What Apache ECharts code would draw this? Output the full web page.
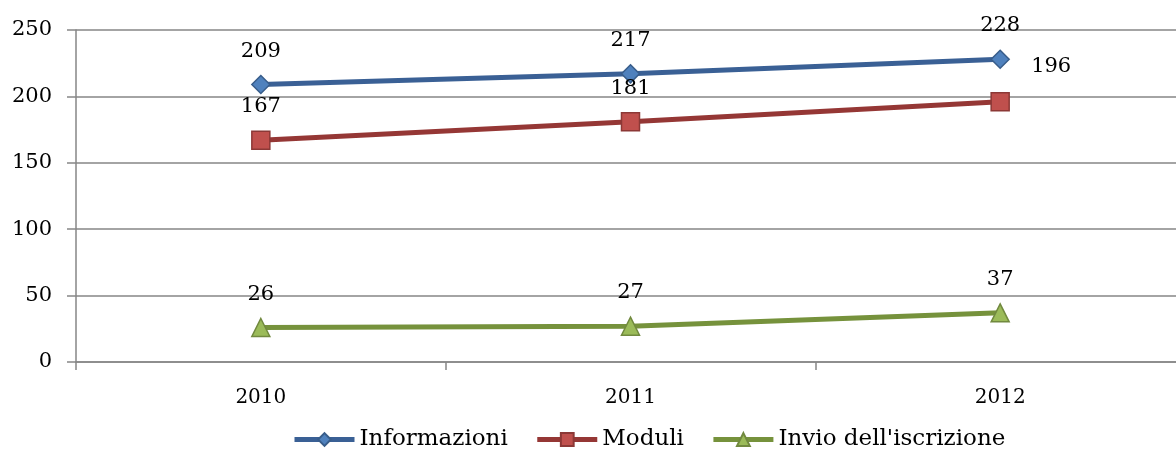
<!DOCTYPE html>
<html><head><meta charset="utf-8">
<script src="https://cdn.jsdelivr.net/npm/echarts@6/dist/echarts.min.js"></script>
<style>html,body{margin:0;padding:0;background:#fff;overflow:hidden;width:1176px;height:455px}#c{width:1186px;height:455px}</style>
</head><body><div id="c"></div>
<script>
const categories = ['2010', '2011', '2012'];
const informazioni = [209, 217, 228];
const moduli = [167, 181, 196];
const invio = [26, 27, 37];
const seriesNames = ['Informazioni', 'Moduli', "Invio dell'iscrizione"];
const yTicks = { min: 0, max: 250, interval: 50 };

const FONT = 'DejaVu Serif';
const chart = echarts.init(document.getElementById('c'), null, { renderer: 'canvas' });
const lbl = { show: true, position: 'top', distance: 13, color: '#000', fontFamily: FONT, fontSize: 21 };
function mk(name, data, lineColor, fill, border, symbol, size, labelOverrides) {
  return {
    name, type: 'line', data: data.map((v, i) => labelOverrides && labelOverrides[i] ? { value: v, label: labelOverrides[i] } : v),
    symbol, symbolSize: size,
    lineStyle: { color: lineColor, width: 5 },
    itemStyle: { color: fill, borderColor: border, borderWidth: 1.5 },
    label: lbl, z: 3
  };
}
chart.setOption({
  animation: false,
  backgroundColor: '#fff',
  grid: { left: 76, right: 1, top: 30, bottom: 93, containLabel: false },
  xAxis: {
    type: 'category', data: categories, boundaryGap: true,
    axisLine: { show: true, lineStyle: { color: '#868686', width: 1.5 } },
    axisTick: { show: true, length: 8, lineStyle: { color: '#868686', width: 1.5 } },
    axisLabel: { margin: 26, color: '#000', fontFamily: FONT, fontSize: 20 }
  },
  yAxis: {
    type: 'value', min: yTicks.min, max: yTicks.max, interval: yTicks.interval,
    axisLine: { show: true, lineStyle: { color: '#868686', width: 1.5 } },
    axisTick: { show: true, length: 9, lineStyle: { color: '#868686', width: 1.5 } },
    splitLine: { show: true, lineStyle: { color: '#868686', width: 1.5 } },
    axisLabel: { margin: 24, color: '#000', fontFamily: FONT, fontSize: 21 }
  },
  legend: {
    top: 423, left: 287, itemWidth: 60, itemHeight: 16, itemGap: 27,
    lineStyle: { width: 5 },
    textStyle: { color: '#000', fontFamily: FONT, fontSize: 23 },
    data: seriesNames
  },
  series: [
    mk(seriesNames[0], informazioni, '#3A6095', '#4F81BD', '#385D8A', 'diamond', 18),
    mk(seriesNames[1], moduli, '#953735', '#C0504D', '#8C3836', 'rect', 18, { 2: { offset: [51, -2] } }),
    mk(seriesNames[2], invio, '#76923C', '#9BBB59', '#71893F', 'triangle', 18)
  ]
});
</script></body></html>
